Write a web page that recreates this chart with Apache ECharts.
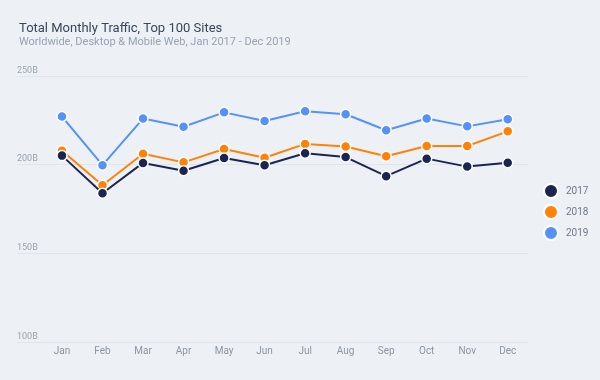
<!DOCTYPE html>
<html><head><meta charset="utf-8">
<script src="https://cdn.jsdelivr.net/npm/echarts@6/dist/echarts.min.js"></script>
<style>html,body{margin:0;padding:0;background:#edf1f6;}#c{width:600px;height:380px;}</style>
</head><body><div id="c"></div>
<script>
const months = ['Jan','Feb','Mar','Apr','May','Jun','Jul','Aug','Sep','Oct','Nov','Dec'];
const y2017 = [205.1,183.9,201.0,196.6,203.8,199.7,206.4,204.3,193.5,203.4,198.9,201.1];
const y2018 = [207.9,188.4,206.2,201.3,208.8,203.9,211.7,210.2,204.7,210.5,210.5,218.8];
const y2019 = [227.1,199.7,226.0,221.4,229.5,224.6,230.1,228.4,219.4,226.0,221.6,225.6];
const yTicks = [100,150,200,250];
const seriesNames = ['2017','2018','2019'];
const colors = ['#1c2452','#ff8207','#5592f7'];
const values = [y2017,y2018,y2019];

const chart = echarts.init(document.getElementById('c'));
chart.setOption({
  backgroundColor:'#edf1f6',
  animation:false,
  textStyle:{fontFamily:'Roboto'},
  title:{
    text:'Total Monthly Traffic, Top 100 Sites',
    subtext:'Worldwide, Desktop & Mobile Web, Jan 2017 - Dec 2019',
    left:14, top:17, itemGap:2,
    textStyle:{fontSize:13,fontWeight:'normal',color:'#394658',fontFamily:'Roboto'},
    subtextStyle:{fontSize:11,color:'#98a2b0',fontFamily:'Roboto'}
  },
  legend:{
    orient:'vertical', left:538, top:178, itemGap:5,
    icon:'circle', itemWidth:14, itemHeight:14,
    textStyle:{color:'#6f7987',fontSize:10,fontFamily:'Roboto',padding:[0,0,0,3]},
    data:seriesNames
  },
  grid:{left:17,right:72,top:76,bottom:38},
  xAxis:{
    type:'value', min:-1.11, max:11.5,
    axisLine:{show:false}, axisTick:{show:false}, splitLine:{show:false},
    axisLabel:{customValues:months.map((m,i)=>i), formatter:v=>months[Math.round(v)]||'',
      color:'#8c95a2',fontSize:10,margin:4}
  },
  yAxis:{
    type:'value', min:yTicks[0], max:yTicks[yTicks.length-1], interval:50,
    axisLine:{show:false}, axisTick:{show:false},
    splitLine:{lineStyle:{color:'#dfe5ec',width:1}},
    axisLabel:{inside:true, margin:0, verticalAlign:'bottom', padding:[0,0,1,0],
      formatter:'{value}B', color:'#9aa3ae', fontSize:9}
  },
  series: seriesNames.map((n,k)=>({
    name:n, type:'line', color:colors[k],
    data: values[k].map((v,i)=>[i,v]),
    symbol:'circle', symbolSize:10, z:3-k,
    lineStyle:{width:2,color:colors[k]},
    itemStyle:{color:colors[k],borderColor:'#ffffff',borderWidth:1.5}
  }))
});
</script></body></html>
